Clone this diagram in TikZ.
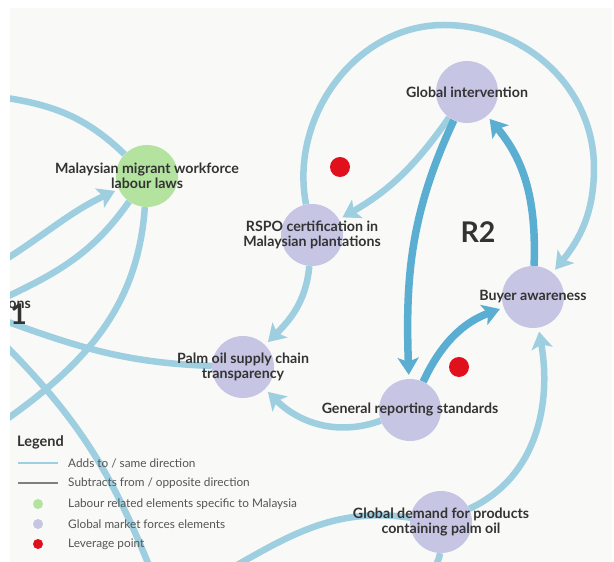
\documentclass[tikz,border=0pt]{standalone}
\usepackage{fontspec}
\setmainfont{Lato}
\usepackage{xcolor}
\usepackage{tikz}
\usetikzlibrary{arrows.meta, positioning, calc}
\definecolor{paper}{HTML}{F9F9F7}
\definecolor{linkblue}{HTML}{9DCFE1}
\definecolor{deepblue}{HTML}{5AAED1}
\definecolor{marketpurple}{HTML}{C6C5E3}
\definecolor{labourgreen}{HTML}{B4E3A0}
\definecolor{leverred}{HTML}{E0111C}
\definecolor{ink}{HTML}{333333}
\definecolor{legendgrey}{HTML}{555555}

\pgfdeclarelayer{back}
\pgfdeclarelayer{links}
\pgfsetlayers{back,links,main}

\tikzset{
  factor/.style={circle, fill=marketpurple, minimum size=62pt, inner sep=0pt},
  labourfactor/.style={factor, fill=labourgreen},
  leverage/.style={circle, fill=leverred, minimum size=20pt, inner sep=0pt},
  caption/.style={font=\bfseries\fontsize{14.2}{15.5}\selectfont, text=ink, align=center, inner sep=0pt},
  loopname/.style={font=\bfseries\fontsize{28.5}{30}\selectfont, text=ink, inner sep=0pt},
  link/.style={draw=linkblue, line width=6.5pt},
  strong/.style={draw=deepblue, line width=7.5pt},
  arrowed/.style={-{Stealth[length=17pt,width=21pt,inset=4pt]}, shorten >=4pt},
  legendtext/.style={anchor=west, font=\fontsize{11.8}{13}\selectfont, text=legendgrey, inner sep=0pt},
}

\begin{document}
\begin{tikzpicture}[x=1pt, y=1pt]
			\useasboundingbox (0,0) rectangle (614,562);
			\begin{pgfonlayer}{back}
				\fill[paper] (10,0) rectangle (612,554);
			\end{pgfonlayer}
			
			%% factors
			\node[labourfactor, label={[caption]center:{Malaysian migrant workforce\\labour laws}}] (migrant) at (147,386) {};
			\node[factor, label={[caption]center:Global intervention}] (intervention) at (467,470) {};
			\node[factor, label={[caption]center:{RSPO certification in\\Malaysian plantations}}] (rspo) at (312,327) {};
			\node[factor, label={[caption]center:Buyer awareness}] (buyer) at (533,265) {};
			\node[factor, label={[caption]center:{Palm oil supply chain\\transparency}}] (transparency) at (243,195) {};
			\node[factor, label={[caption]center:General reporting standards}] (reporting) at (410,152) {};
			\node[factor, label={[caption]center:{Global demand for products\\containing palm oil}}] (demand) at (441,40) {};
			
			\node[leverage] (leverA) at (340,395) {};
			\node[leverage] (leverB) at (459,195) {};
			
			\node[loopname] (loopR2) at (478,330) {R2};
			\node[loopname, anchor=east] (loopR1) at (27,248) {R1};
			\node[caption, anchor=east] (cutlabel) at (31,257) {ons};
			
			%% free ends off the frame
			\coordinate (ringtop) at (444,537);
			\coordinate (ringright) at (594,394);
			\coordinate (demandwest) at (232,-6);
			\coordinate (demandsouth) at (436,-6);
			\coordinate (westtop) at (0,465);
			\coordinate (westarrow) at (0,299);
			\coordinate (westlow) at (0,262);
			\coordinate (westfall) at (0,138);
			\coordinate (westfeed) at (0,243);
			\coordinate (westcross) at (0,222);
			\coordinate (southcross) at (150,-6);
			
			\begin{pgfonlayer}{links}
				\draw[link, arrowed] (intervention) to[out=235, in=30] (rspo);
				\draw[strong, arrowed] (intervention) to[out=245, in=92] (reporting);
				\draw[strong, arrowed] (buyer) to[out=88, in=-50] (intervention);
				\draw[strong, arrowed] (reporting) to[out=65, in=200] (buyer);
				\draw[link, arrowed] (rspo) to[out=101, in=180] (ringtop) to[out=0, in=90] (ringright) to[out=270, in=51] (buyer);
				\draw[link, arrowed] (rspo) to[out=265, in=45] (transparency);
				\draw[link, arrowed] (reporting) to[out=200, in=-45] (transparency);
				\draw[link, arrowed] (demand) to[out=25, in=-80] (buyer);
				\draw[link] (demand) to[out=172, in=30] (demandwest);
				\draw[link] (demand) to[out=268, in=90] (demandsouth);
				\draw[link] (migrant) to[out=136, in=-8] (westtop);
				\draw[link, arrowed] (westarrow) to[out=32, in=205] (migrant);
				\draw[link] (westlow) to[out=25, in=235] (migrant);
				\draw[link] (migrant) to[out=266, in=35] (westfall);
				\draw[link] (westfeed) to[out=-20, in=178] (transparency);
				\draw[link] (westcross) to[out=-45, in=112] (southcross);
			\end{pgfonlayer}
			
			%% legend
			\node[anchor=west, font=\bfseries\fontsize{14.5}{16}\selectfont, text=ink, inner sep=0pt] (legendtitle) at (17,120) {Legend};
			\node[legendtext] (addsto) at (68,99) {Adds to / same direction};
			\node[legendtext] (subtracts) at (68,79) {Subtracts from / opposite direction};
			\node[legendtext] (labourkey) at (68,58) {Labour related elements specific to Malaysia};
			\node[legendtext] (marketkey) at (68,38) {Global market forces elements};
			\node[legendtext] (leverkey) at (68,18) {Leverage point};
			\draw[linkblue, line width=1.6pt] ([xshift=-50pt]addsto.west) -- ([xshift=-10pt]addsto.west);
			\draw[gray, line width=1.6pt] ([xshift=-50pt]subtracts.west) -- ([xshift=-10pt]subtracts.west);
			\node[circle, fill=labourgreen, minimum size=10pt, inner sep=0pt] (labourdot) at (38,58) {};
			\node[circle, fill=marketpurple, minimum size=10pt, inner sep=0pt] (marketdot) at (38,38) {};
			\node[circle, fill=leverred, minimum size=10pt, inner sep=0pt] (leverdot) at (38,18) {};
			
			%% white frame
			\fill[white] (-2,-2) rectangle (10,564);
			\fill[white] (-2,554) rectangle (616,564);
			\fill[white] (612,-2) rectangle (616,564);
\end{tikzpicture}
\end{document}
